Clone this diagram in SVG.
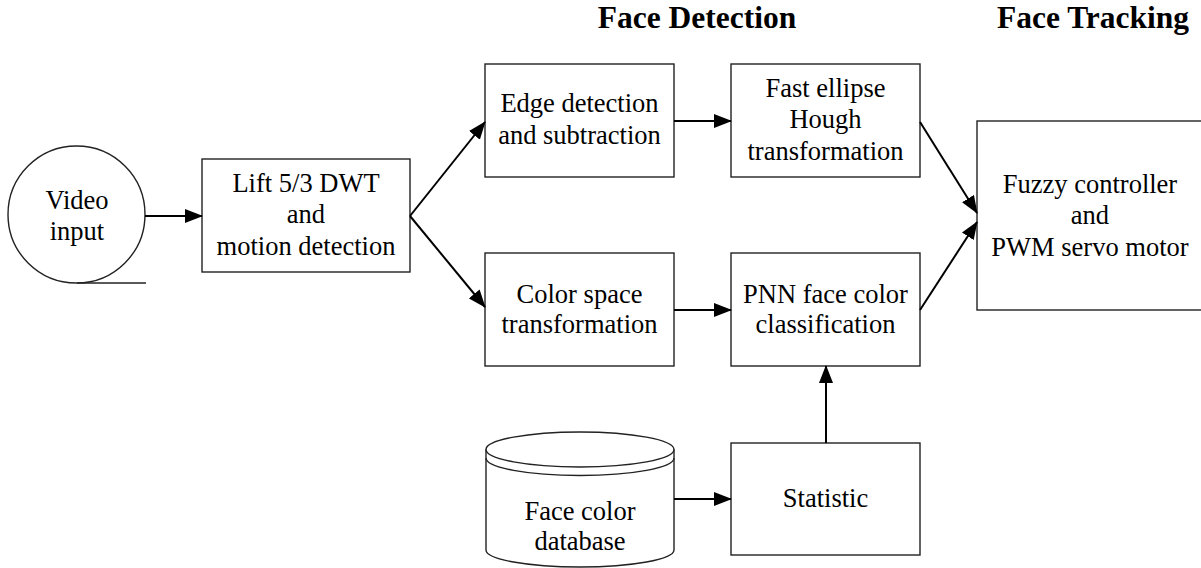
<svg xmlns="http://www.w3.org/2000/svg" width="1201" height="568" viewBox="0 0 1201 568">
<style>
  .box { fill: #fff; stroke: #222; stroke-width: 1.4; }
  .t { font-family: "Liberation Serif", "Times New Roman", serif; font-size: 26.5px; fill: #000; text-anchor: middle; }
  .title { font-family: "Liberation Serif", "Times New Roman", serif; font-size: 31.5px; font-weight: bold; fill: #000; text-anchor: middle; }
  .conn { fill: none; stroke: #000; stroke-width: 2; marker-end: url(#arr); }
</style>
<defs>
  <marker id="arr" viewBox="0 0 18 14" refX="17" refY="7" markerWidth="18" markerHeight="14" markerUnits="userSpaceOnUse" orient="auto">
    <path d="M0,0 L18,7 L0,14 z" fill="#000"/>
  </marker>
</defs>

<text class="title" x="697" y="28">Face Detection</text>
<text class="title" x="1093" y="28">Face Tracking</text>

<g id="video-input">
  <circle class="box" cx="76.5" cy="214.5" r="68.5"/>
  <line x1="77" y1="283" x2="146" y2="283" stroke="#222" stroke-width="1.4"/>
  <text class="t" x="77" y="209">Video</text>
  <text class="t" x="77" y="240">input</text>
</g>

<g id="lift-dwt">
  <rect class="box" x="202" y="159" width="208" height="113"/>
  <text class="t" x="306" y="192">Lift 5/3 DWT</text>
  <text class="t" x="306" y="223">and</text>
  <text class="t" x="306" y="255">motion detection</text>
</g>

<g id="edge-detection">
  <rect class="box" x="485" y="64" width="189" height="113"/>
  <text class="t" x="579.5" y="112">Edge detection</text>
  <text class="t" x="579.5" y="144">and subtraction</text>
</g>

<g id="fast-ellipse">
  <rect class="box" x="731" y="64" width="189" height="113"/>
  <text class="t" x="825.5" y="97">Fast ellipse</text>
  <text class="t" x="825.5" y="128">Hough</text>
  <text class="t" x="825.5" y="160">transformation</text>
</g>

<g id="color-space">
  <rect class="box" x="485" y="253" width="189" height="113"/>
  <text class="t" x="579.5" y="303">Color space</text>
  <text class="t" x="579.5" y="333">transformation</text>
</g>

<g id="pnn">
  <rect class="box" x="731" y="253" width="189" height="113"/>
  <text class="t" x="825.5" y="303">PNN face color</text>
  <text class="t" x="825.5" y="333">classification</text>
</g>

<g id="statistic">
  <rect class="box" x="731" y="443" width="189" height="112"/>
  <text class="t" x="825.5" y="507">Statistic</text>
</g>

<g id="database">
  <path class="box" d="M486,449.5 L486,550 A94,17 0 0 0 674,550 L674,449.5 A94,17.5 0 0 0 486,449.5 Z"/>
  <path d="M486,449.5 A94,17.5 0 0 0 674,449.5" fill="none" stroke="#222" stroke-width="1.4"/>
  <path d="M486,458 A94,17.5 0 0 0 674,458" fill="none" stroke="#222" stroke-width="1.4"/>
  <text class="t" x="580" y="520">Face color</text>
  <text class="t" x="580" y="550">database</text>
</g>

<g id="fuzzy">
  <rect class="box" x="977" y="121" width="240" height="189"/>
  <text class="t" x="1090" y="193">Fuzzy controller</text>
  <text class="t" x="1090" y="224">and</text>
  <text class="t" x="1090" y="256">PWM servo motor</text>
</g>

<g id="connectors">
  <line class="conn" x1="145" y1="216" x2="202" y2="216"/>
  <line class="conn" x1="410" y1="216" x2="485" y2="122"/>
  <line class="conn" x1="410" y1="216" x2="485" y2="307"/>
  <line class="conn" x1="674" y1="121" x2="731" y2="121"/>
  <line class="conn" x1="674" y1="310" x2="731" y2="310"/>
  <line class="conn" x1="674" y1="499" x2="731" y2="499"/>
  <line class="conn" x1="826" y1="443" x2="826" y2="366"/>
  <line class="conn" x1="920" y1="122" x2="977" y2="213"/>
  <line class="conn" x1="920" y1="310" x2="977" y2="222"/>
</g>
</svg>
